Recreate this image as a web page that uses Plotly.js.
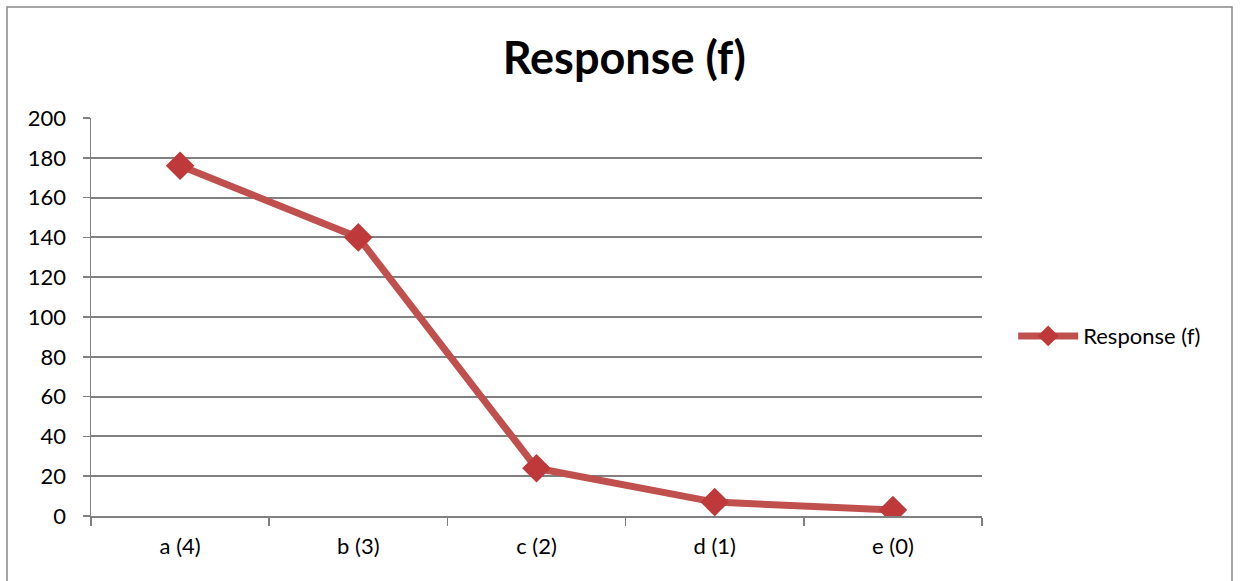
<!DOCTYPE html>
<html><head><meta charset="utf-8">
<script src="https://cdn.plot.ly/plotly-3.0.1.min.js"></script>
<style>html,body{margin:0;padding:0;background:#fff;}#chart{width:1241px;height:581px;}</style>
</head><body><div id="chart"></div>
<script>
const categories = ["a (4)", "b (3)", "c (2)", "d (1)", "e (0)"];
const responseValues = [176, 140, 24, 7, 3];
const seriesName = "Response (f)";
const chartTitle = "Response (f)";

const fontFam = "Lato, 'Open Sans', sans-serif";
const trace = {
  x: categories, y: responseValues, name: seriesName,
  type: "scatter", mode: "lines+markers",
  line: {color: "#c0504d", width: 7},
  marker: {symbol: "diamond", size: 22, color: "#c0393a"},
};
const layout = {
  width: 1241, height: 581,
  margin: {l: 91, r: 259, t: 118, b: 65},
  paper_bgcolor: "#fff", plot_bgcolor: "#fff",
  title: {text: "<b>" + chartTitle + "</b>", font: {family: fontFam, size: 45, color: "#000"},
    x: 0.503, xanchor: "center", y: 0.9, yanchor: "middle", yref: "container"},
  font: {family: fontFam, size: 22, color: "#000"},
  xaxis: {type: "category", range: [-0.5, 4.5], showgrid: false, zeroline: false,
    showline: true, linecolor: "#808080", linewidth: 2,
    ticks: "outside", tickson: "boundaries", ticklen: 8, tickcolor: "#808080", tickwidth: 1.5,
    ticklabelstandoff: 10,
    tickfont: {family: fontFam, size: 22}},
  yaxis: {range: [0, 200], dtick: 20, showgrid: true, gridcolor: "#808080", gridwidth: 2,
    zeroline: false, showline: true, linecolor: "#808080", linewidth: 1.5,
    ticks: "outside", ticklen: 7, tickcolor: "#808080", tickwidth: 1.5,
    ticklabelstandoff: 12,
    tickfont: {family: fontFam, size: 22}},
  showlegend: true,
  legend: {x: 1.035, xanchor: "left", y: 0.452, yanchor: "middle", font: {family: fontFam, size: 22},
    itemwidth: 60, bgcolor: "rgba(0,0,0,0)"},
  shapes: [{type: "rect", xref: "paper", yref: "paper",
    x0: (7 - 91) / 891, x1: (1232 - 91) / 891, y0: -0.3, y1: (516 - 7) / 398,
    line: {color: "#888", width: 1.5}, fillcolor: "rgba(0,0,0,0)", layer: "below"}]
};
Plotly.newPlot("chart", [trace], layout, {displayModeBar: false, staticPlot: true});
</script></body></html>
